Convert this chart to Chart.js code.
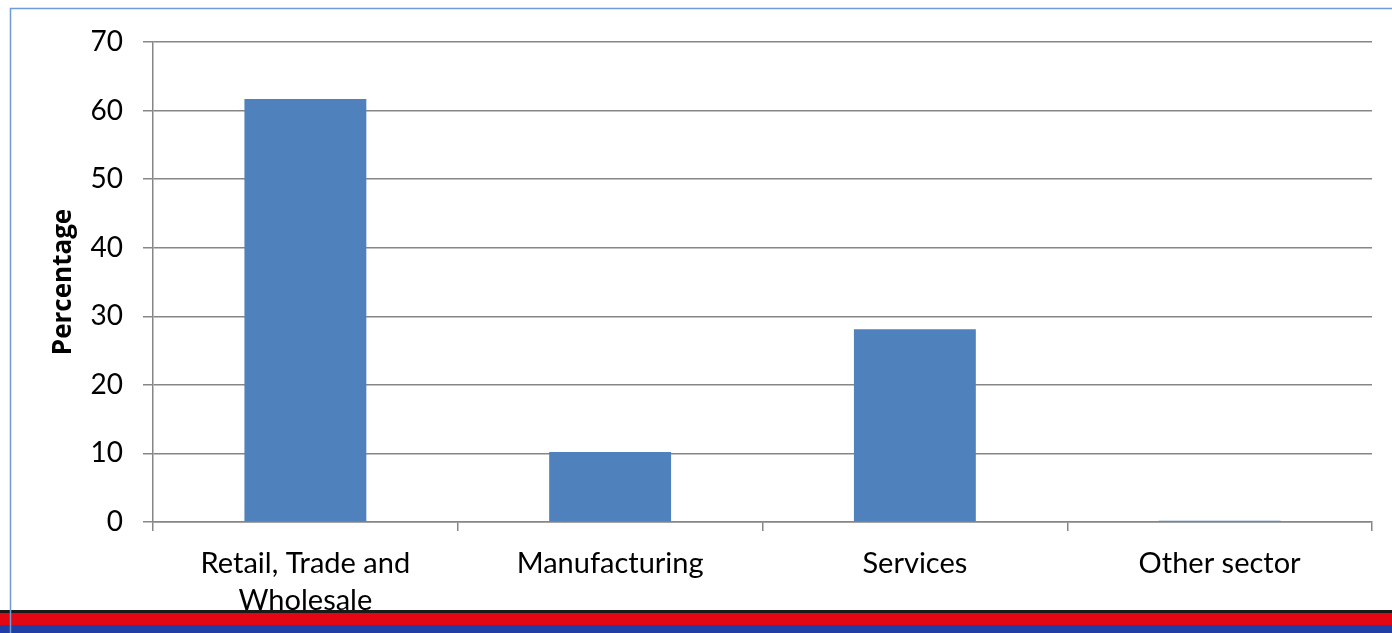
<!DOCTYPE html>
<html><head><meta charset="utf-8">
<script src="https://cdn.jsdelivr.net/npm/chart.js@4/dist/chart.umd.min.js"></script>
<style>html,body{margin:0;padding:0;background:#fff;overflow:hidden}#wrap{width:1392px;height:633px;position:relative}</style>
</head><body><div id="wrap"><canvas id="c" width="1392" height="633"></canvas></div>
<script>
const categories = [["Retail, Trade and", "Wholesale"], "Manufacturing", "Services", "Other sector"];
const percentages = [61.7, 10.2, 28.1, 0.2];
const yTicks = [0, 10, 20, 30, 40, 50, 60, 70];

const decor = {
  id: 'decor',
  afterDraw(chart) {
    const ctx = chart.ctx;
    ctx.save();
    // bottom stripes
    ctx.fillStyle = '#1a1a1a'; ctx.fillRect(0, 610, 1392, 3);
    ctx.fillStyle = '#e30613'; ctx.fillRect(0, 613, 1392, 12);
    ctx.fillStyle = '#1f3fa6'; ctx.fillRect(0, 625, 1392, 8);
    // frame
    ctx.strokeStyle = '#6f9bd6'; ctx.lineWidth = 1.5;
    ctx.beginPath(); ctx.moveTo(10.5, 640); ctx.lineTo(10.5, 8.5); ctx.lineTo(1400, 8.5); ctx.stroke();
    ctx.restore();
  }
};

new Chart(document.getElementById('c'), {
  type: 'bar',
  data: { labels: categories, datasets: [{ data: percentages, backgroundColor: '#4F81BD', borderWidth: 0, categoryPercentage: 1, barPercentage: 0.4 }] },
  options: {
    responsive: false, animation: false,
    layout: { padding: { left: 0, top: 42, right: 20, bottom: 0 } },
    plugins: { legend: { display: false }, tooltip: { enabled: false } },
    scales: {
      x: {
        grid: { display: true, drawOnChartArea: false, color: '#868686', lineWidth: 1.5, tickLength: 9, offset: true },
        border: { color: '#868686', width: 1.5 },
        ticks: { color: '#000', font: { family: 'Lato', size: 29, lineHeight: 1.28 }, padding: 14, maxRotation: 0, autoSkip: false },
        afterFit(s) { s.height = 111; }
      },
      y: {
        min: 0, max: 70,
        afterBuildTicks(s) { s.ticks = yTicks.map(v => ({ value: v })); },
        grid: { color: '#868686', lineWidth: 1.5, tickLength: 10 },
        border: { color: '#868686', width: 1.5 },
        ticks: { color: '#000', font: { family: 'Lato', size: 28 }, padding: 20 },
        title: { display: true, text: 'Percentage', color: '#000', font: { family: 'Open Sans', size: 26, weight: 'bold' }, padding: { top: 48, bottom: 0 } },
        afterFit(s) { s.width = 153; }
      }
    }
  },
  plugins: [decor]
});
</script></body></html>
